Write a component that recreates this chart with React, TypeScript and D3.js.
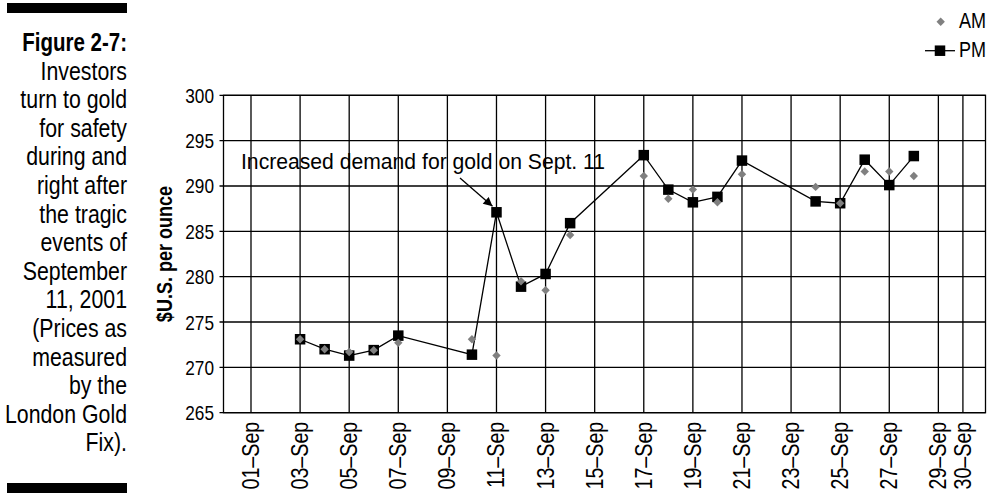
import React from "react";
import * as d3 from "d3";

const days = [3, 4, 5, 6, 7, 10, 11, 12, 13, 14, 17, 18, 19, 20, 21, 24, 25, 26, 27, 28];
const amValues = [273.1, 272.0, 271.7, 271.9, 272.7, 273.1, 271.3, 279.5, 278.5, 284.6, 291.1, 288.6, 289.6, 288.2, 291.3, 289.9, 288.1, 291.6, 291.6, 291.1];
const pmValues = [273.1, 272.0, 271.3, 271.9, 273.5, 271.4, 287.1, 278.9, 280.3, 285.9, 293.4, 289.6, 288.2, 288.8, 292.8, 288.3, 288.1, 292.9, 290.1, 293.3];
const tickDays = [1, 3, 5, 7, 9, 11, 13, 15, 17, 19, 21, 23, 25, 27, 29, 30];
const tickLabels = ["01–Sep", "03–Sep", "05–Sep", "07–Sep", "09–Sep", "11–Sep", "13–Sep", "15–Sep", "17–Sep", "19–Sep", "21–Sep", "23–Sep", "25–Sep", "27–Sep", "29–Sep", "30–Sep"];
const yTicks = [265, 270, 275, 280, 285, 290, 295, 300];
const captionLines = ["Investors", "turn to gold", "for safety", "during and", "right after", "the tragic", "events of", "September", "11, 2001", "(Prices as", "measured", "by the", "London Gold", "Fix)."];
const captionTitle = "Figure 2-7:";
const annotationText = "Increased demand for gold on Sept. 11";
const seriesNames = ["AM", "PM"];

const FONT = "'Liberation Sans', Arial, Helvetica, sans-serif";
const SX = 0.82;

type TProps = { x: number; y: number; size: number; anchor?: string; bold?: boolean; rot?: number; children: React.ReactNode };
function T({ x, y, size, anchor = "start", bold = false, rot = 0, children }: TProps) {
  return (
    <text
      transform={`translate(${x},${y})${rot ? ` rotate(${rot})` : ""} scale(${SX},1)`}
      textAnchor={anchor}
      fontSize={size}
      fontWeight={bold ? "bold" : "normal"}
      fill="#000"
    >
      {children}
    </text>
  );
}

export default function App() {
  const left = 223.5, right = 985.5, top = 95.3, bottom = 412.7;
  const x = d3.scaleLinear().domain([-0.12, 30.92]).range([left, right]);
  const y = d3.scaleLinear().domain([265, 300]).range([bottom, top]);
  const pmPts: [number, number][] = days.map((d, i) => [x(d), y(pmValues[i])]);
  const line = d3.line();
  const sq = 10.5;
  const dm = 4.2;
  const diamond = (cx: number, cy: number) =>
    `M${cx},${cy - dm}L${cx + dm},${cy}L${cx},${cy + dm}L${cx - dm},${cy}Z`;

  const capX = 127;
  const capBase = 51;
  const capStep = 28.6;

  return (
    <svg width={994} height={496} style={{ position: "absolute", left: 0, top: 0, background: "#fff" }} fontFamily={FONT}>
      <defs>
        <marker id="arr" viewBox="0 0 10 10" refX="10" refY="5" markerWidth="10" markerHeight="9" markerUnits="userSpaceOnUse" orient="auto">
          <path d="M0,0L10,5L0,10Z" fill="#000" />
        </marker>
      </defs>
      {/* caption */}
      <rect x={7} y={3} width={120} height={10} fill="#000" />
      <rect x={7} y={483} width={120} height={10} fill="#000" />
      <T x={capX} y={capBase} size={25} anchor="end" bold>{captionTitle}</T>
      {captionLines.map((t, i) => (
        <T key={t} x={capX} y={capBase + (i + 1) * capStep} size={26} anchor="end">{t}</T>
      ))}
      {/* y label */}
      <T x={172} y={(top + bottom) / 2} size={22} anchor="middle" bold rot={-90}>$U.S. per ounce</T>
      {/* grid */}
      {yTicks.map((v) => (
        <g key={v}>
          <line x1={left - 4} x2={right} y1={y(v)} y2={y(v)} stroke="#000" strokeWidth={1.3} />
          <T x={214} y={y(v) + 7.5} size={21} anchor="end">{v}</T>
        </g>
      ))}
      {tickDays.map((d, i) => (
        <g key={d}>
          <line x1={x(d)} x2={x(d)} y1={top} y2={bottom} stroke="#000" strokeWidth={1.3} />
          <T x={x(d) + 8} y={bottom + 9} size={24} anchor="end" rot={-90}>{tickLabels[i]}</T>
        </g>
      ))}
      <rect x={left} y={top} width={right - left} height={bottom - top} fill="none" stroke="#000" strokeWidth={1.3} />
      {/* PM line + markers */}
      <path d={line(pmPts) || ""} fill="none" stroke="#000" strokeWidth={1.3} />
      {pmPts.map(([px, py], i) => (
        <rect key={i} x={px - sq / 2} y={py - sq / 2} width={sq} height={sq} fill="#000" />
      ))}
      {days.map((d, i) => (
        <path key={i} d={diamond(x(d), y(amValues[i]))} fill="#808080" />
      ))}
      {/* annotation */}
      <text x={241} y={169} fontSize={22} fill="#000" textLength={364} lengthAdjust="spacingAndGlyphs">{annotationText}</text>
      <line x1={460} y1={178} x2={x(11) - 4} y2={y(287.1) - 6} stroke="#000" strokeWidth={1.3} markerEnd="url(#arr)" />
      {/* legend */}
      <path d={diamond(940.7, 21.7)} fill="#808080" />
      <T x={959} y={28} size={22}>{seriesNames[0]}</T>
      <line x1={925} x2={955} y1={50.7} y2={50.7} stroke="#000" strokeWidth={1.3} />
      <rect x={940 - sq / 2} y={50.7 - sq / 2} width={sq} height={sq} fill="#000" />
      <T x={959} y={57} size={22}>{seriesNames[1]}</T>
    </svg>
  );
}
